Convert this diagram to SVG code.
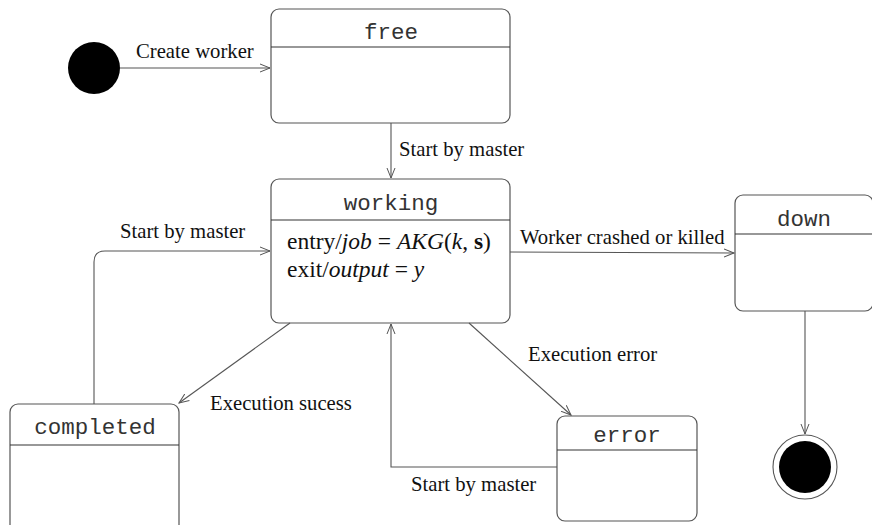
<svg xmlns="http://www.w3.org/2000/svg" width="872" height="525" viewBox="0 0 872 525">
<defs>
<marker id="arr" markerWidth="12" markerHeight="10" refX="10" refY="5" orient="auto" markerUnits="userSpaceOnUse">
<path d="M0,1 L10,5 L0,9" fill="none" stroke="#555" stroke-width="1"/>
</marker>
<style>
.box{fill:#fff;stroke:#555;stroke-width:1.2}
.div{stroke:#333;stroke-width:1.2}
.t{font-family:"Liberation Mono","Courier New",monospace;font-size:22.5px;fill:#333;text-anchor:middle}
.l{font-family:"Liberation Serif","Times New Roman",serif;font-size:20.7px;fill:#111}
.c{fill:none;stroke:#555;stroke-width:1.1}
.m{font-family:"Liberation Serif","Times New Roman",serif;font-size:23.5px;fill:#111}
</style>
</defs>
<rect width="872" height="525" fill="#fff"/>
<g id="initial"><circle cx="94" cy="68" r="26" fill="#000"/></g>
<g id="free">
<rect class="box" x="271" y="9" width="239" height="114" rx="8"/>
<line class="div" x1="271" y1="47" x2="510" y2="47"/>
<text class="t" x="391" y="39">free</text>
</g>
<g id="working">
<rect class="box" x="271" y="179" width="239" height="144" rx="8"/>
<line class="div" x1="271" y1="220" x2="510" y2="220"/>
<text class="t" x="391" y="210">working</text>
<text class="m" x="287" y="249">entry/<tspan font-style="italic">job</tspan> = <tspan font-style="italic">AKG</tspan>(<tspan font-style="italic">k</tspan>, <tspan font-weight="bold">s</tspan>)</text>
<text class="m" x="287" y="277">exit/<tspan font-style="italic">output</tspan> = <tspan font-style="italic">y</tspan></text>
</g>
<g id="down">
<rect class="box" x="735" y="195" width="138" height="116" rx="8"/>
<line class="div" x1="735" y1="234" x2="873" y2="234"/>
<text class="t" x="804" y="226">down</text>
</g>
<g id="completed">
<rect class="box" x="10" y="404" width="169" height="130" rx="8"/>
<line class="div" x1="10" y1="445" x2="179" y2="445"/>
<text class="t" x="95" y="434">completed</text>
</g>
<g id="error">
<rect class="box" x="557" y="416" width="140" height="105" rx="8"/>
<line class="div" x1="557" y1="450" x2="697" y2="450"/>
<text class="t" x="627" y="442">error</text>
</g>
<g id="final">
<circle cx="805" cy="467" r="32" fill="#fff" stroke="#555" stroke-width="1.1"/>
<circle cx="805" cy="467" r="26" fill="#000"/>
</g>
<g id="connectors">
<line class="c" x1="120" y1="68" x2="270" y2="68" marker-end="url(#arr)"/>
<line class="c" x1="391" y1="123" x2="391" y2="178" marker-end="url(#arr)"/>
<line class="c" x1="510" y1="252" x2="734" y2="253" marker-end="url(#arr)"/>
<line class="c" x1="805" y1="311" x2="805" y2="434" marker-end="url(#arr)"/>
<line class="c" x1="290" y1="323" x2="179" y2="403" marker-end="url(#arr)"/>
<line class="c" x1="469" y1="323" x2="571" y2="415" marker-end="url(#arr)"/>
<path class="c" d="M557,467 L391,467 L391,324" marker-end="url(#arr)"/>
<path class="c" d="M94,404 L94,262 Q94,251 105,251 L270,251" marker-end="url(#arr)"/>
</g>
<g id="labels">
<text class="l" x="136" y="58">Create worker</text>
<text class="l" x="399" y="156">Start by master</text>
<text class="l" x="520" y="244">Worker crashed or killed</text>
<text class="l" x="120" y="238">Start by master</text>
<text class="l" x="528" y="361">Execution error</text>
<text class="l" x="210" y="410">Execution sucess</text>
<text class="l" x="411" y="491">Start by master</text>
</g>
</svg>
